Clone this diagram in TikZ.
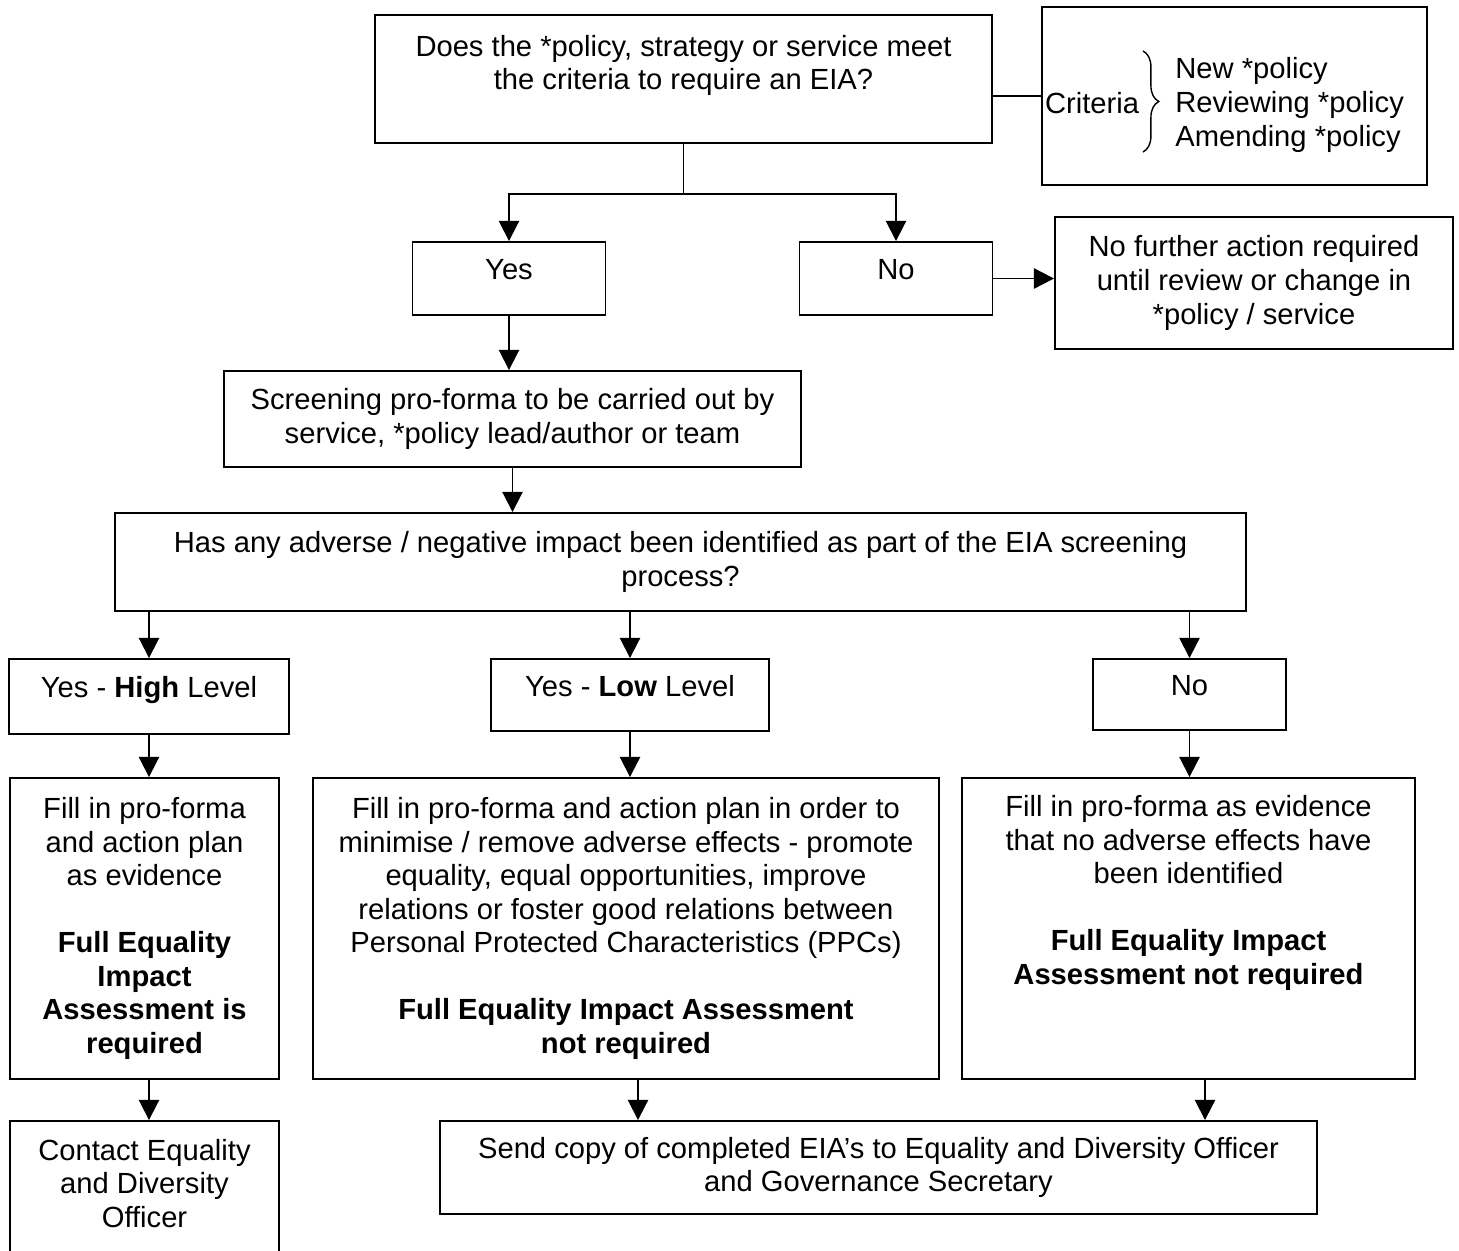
\documentclass[tikz,border=0pt]{standalone}
\usepackage{fontspec}
\setmainfont{Liberation Sans}
\usetikzlibrary{arrows.meta,decorations.pathreplacing}

\begin{document}
\begin{tikzpicture}[x=0.02cm, y=-0.02cm,
    font=\fontsize{16.6pt}{19.1pt}\selectfont,
    box/.style={draw, line width=1.1pt, align=center, inner sep=0pt},
    oneline/.style={text height=12pt, text depth=10.5pt},
    link/.style={line width=1.1pt},
    arrow/.style={line width=1.1pt, -{Triangle[length=11.5pt,width=11.5pt]}}]

  % Page frame (the last box runs off the page)
  \useasboundingbox (0,0) rectangle (1459,1250);
  \clip (0,0) rectangle (1459,1250);

  % Question and criteria
  \node[box, minimum width=12.34cm, minimum height=2.56cm] (q1) at (683.5,79)
    {Does the *policy, strategy or service meet\\the criteria to require an EIA?\\\mbox{}};
  \node[box, minimum width=7.7cm, minimum height=3.56cm] (crit) at (1234.5,96) {};
  \node[inner sep=0pt] (critlab) at (1092,103) {Criteria};
  \node[inner sep=0pt, align=left, anchor=west] (critlist) at (1175,105)
    {New *policy\\Reviewing *policy\\Amending *policy};
  \draw[line width=0.8pt, decorate, decoration={brace, amplitude=9pt}]
    (1143,51) -- (1143,152);

  % First decision
  \node[box, oneline, minimum width=3.86cm, minimum height=1.46cm] (yes) at (509,278.5) {Yes};
  \node[box, oneline, minimum width=3.86cm, minimum height=1.46cm] (no) at (896,278.5) {No};
  \node[box, minimum width=7.96cm, minimum height=2.64cm] (nofa) at (1254,283)
    {No further action required\\until review or change in\\*policy / service};

  % Screening
  \node[box, minimum width=11.54cm, minimum height=1.92cm] (screen) at (512.5,419)
    {Screening pro-forma to be carried out by\\service, *policy lead/author or team};
  \node[box, minimum width=22.62cm, minimum height=1.96cm] (hasany) at (680.5,562)
    {Has any adverse / negative impact been identified as part of the EIA screening\\process?};

  % Impact levels
  \node[box, oneline, minimum width=5.6cm, minimum height=1.5cm] (high) at (149,696.5)
    {Yes - \textbf{High} Level};
  \node[box, oneline, minimum width=5.56cm, minimum height=1.44cm] (low) at (630,695)
    {Yes - \textbf{Low} Level};
  \node[box, oneline, minimum width=3.86cm, minimum height=1.42cm] (no2) at (1189.5,694.5) {No};

  % Outcomes
  \node[box, minimum width=5.38cm, minimum height=6.02cm] (big1) at (144.5,928.5)
    {Fill in pro-forma\\and action plan\\as evidence\\\mbox{}\\\textbf{Full Equality}\\
     \textbf{Impact}\\\textbf{Assessment is}\\\textbf{required}};
  \node[box, minimum width=12.52cm, minimum height=6.02cm] (big2) at (626,928.5)
    {Fill in pro-forma and action plan in order to\\minimise / remove adverse effects - promote\\
     equality, equal opportunities, improve\\relations or foster good relations between\\
     Personal Protected Characteristics (PPCs)\\\mbox{}\\\textbf{Full Equality Impact Assessment}\\
     \textbf{not required}};
  \node[box, minimum width=9.06cm, minimum height=6.02cm] (big3) at (1188.5,928.5)
    {Fill in pro-forma as evidence\\that no adverse effects have\\been identified\\\mbox{}\\
     \textbf{Full Equality Impact}\\\textbf{Assessment not required}\\\mbox{}\\\rule[-5.7pt]{0pt}{0pt}};

  % Final steps
  \node[box, minimum width=5.38cm, minimum height=3.16cm] (contact) at (144.5,1200)
    {Contact Equality\\and Diversity\\Officer\\\mbox{}};
  \node[box, minimum width=17.54cm, minimum height=1.86cm] (send) at (878.5,1167.5)
    {Send copy of completed EIA's to Equality and Diversity Officer\\and Governance Secretary};

  % Connectors
  \draw[link] (crit.west) -- (crit.west -| q1.east);
  \draw[link] (q1.south) -- ++(0,50) coordinate (split);
  \draw[arrow] (split) -| (yes.north);
  \draw[arrow] (split) -| (no.north);
  \draw[arrow] (no.east) -- (no.east -| nofa.west);
  \draw[arrow] (yes.south) -- (yes.south |- screen.north);
  \draw[arrow] (screen.south) -- (screen.south |- hasany.north);

  \draw[arrow] (hasany.south -| high.north) -- (high.north);
  \draw[arrow] (hasany.south -| low.north) -- (low.north);
  \draw[arrow] (hasany.south -| no2.north) -- (no2.north);

  \draw[arrow] (high.south) -- (high.south |- big1.north);
  \draw[arrow] (low.south) -- (low.south |- big2.north);
  \draw[arrow] (no2.south) -- (no2.south |- big3.north);

  \coordinate (b2out) at (638,1079);
  \coordinate (b3out) at (1205,1079);
  \draw[arrow] (high.south |- big1.south) -- (high.south |- contact.north);
  \draw[arrow] (b2out) -- (b2out |- send.north);
  \draw[arrow] (b3out) -- (b3out |- send.north);
\end{tikzpicture}
\end{document}
